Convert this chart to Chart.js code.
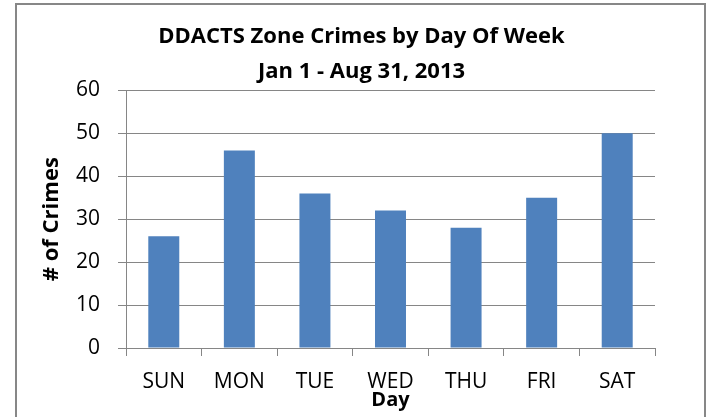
<!DOCTYPE html>
<html>
<head>
<meta charset="utf-8">
<script src="https://cdn.jsdelivr.net/npm/chart.js@4"></script>
<style>
  html, body { margin: 0; padding: 0; background: #fff; }
  #wrap { position: relative; width: 709px; height: 417px; overflow: hidden; }
  #frame { position: absolute; left: 15px; top: 3px; width: 691px; height: 440px; border: 2px solid #878787; box-sizing: border-box; }
  canvas { position: absolute; left: 0; top: 0; }
</style>
</head>
<body>
<div id="wrap">
  <div id="frame"></div>
  <canvas id="chart" width="709" height="417"></canvas>
</div>
<script>
    const days = ['SUN', 'MON', 'TUE', 'WED', 'THU', 'FRI', 'SAT'];
    const crimes = [26, 46, 36, 32, 28, 35, 50];
    const titleLines = ['DDACTS Zone Crimes by Day Of Week', 'Jan 1 - Aug 31, 2013'];
    const yTicks = [0, 10, 20, 30, 40, 50, 60];

    const gridColor = '#868686';
    const fontFamily = "'Open Sans', 'Liberation Sans', sans-serif";

    const ctx = document.getElementById('chart').getContext('2d');
    new Chart(ctx, {
        type: 'bar',
        data: {
            labels: days,
            datasets: [{
                label: '# of Crimes',
                data: crimes,
                backgroundColor: '#4f81bd',
                borderWidth: 0,
                barPercentage: 0.41,
                categoryPercentage: 1
            }]
        },
        options: {
            responsive: false,
            animation: false,
            layout: { padding: { left: 14, right: 0, top: 0, bottom: 0 } },
            plugins: {
                legend: { display: false },
                tooltip: { enabled: false },
                title: {
                    display: true,
                    text: titleLines,
                    color: '#000',
                    font: { family: fontFamily, size: 22, weight: 'bold', lineHeight: 1.6 },
                    padding: { top: 19, bottom: 1 }
                }
            },
            scales: {
                x: {
                    offset: true,
                    afterFit: s => { s.height = 69; },
                    grid: { display: true, drawOnChartArea: false, drawTicks: true, tickLength: 8, color: gridColor, offset: true },
                    border: { display: true, color: gridColor, width: 1 },
                    ticks: { color: '#000', padding: 13, font: { family: fontFamily, size: 21 } },
                    title: {
                        display: true,
                        text: 'Day',
                        color: '#000',
                        font: { family: fontFamily, size: 20, weight: 'bold', lineHeight: 1.2 },
                        padding: { top: 0, bottom: 5 }
                    }
                },
                y: {
                    min: 0,
                    max: 60,
                    afterFit: s => { s.width = 112; },
                    afterBuildTicks: s => { s.ticks = yTicks.map(v => ({ value: v })); },
                    grid: { color: gridColor, tickLength: 8, lineWidth: 1 },
                    border: { display: true, color: gridColor, width: 1 },
                    ticks: { color: '#000', padding: 18, font: { family: fontFamily, size: 21 } },
                    title: {
                        display: true,
                        text: '# of Crimes',
                        color: '#000',
                        font: { family: fontFamily, size: 22, weight: 'bold', lineHeight: 1.2 },
                        padding: { top: 25, bottom: 0 }
                    }
                },
                right: {
                    type: 'linear',
                    position: 'right',
                    afterFit: s => { s.width = 54; },
                    grid: { display: false },
                    border: { display: false },
                    ticks: { display: false }
                }
            }
        }
    });
</script>
</body>
</html>
